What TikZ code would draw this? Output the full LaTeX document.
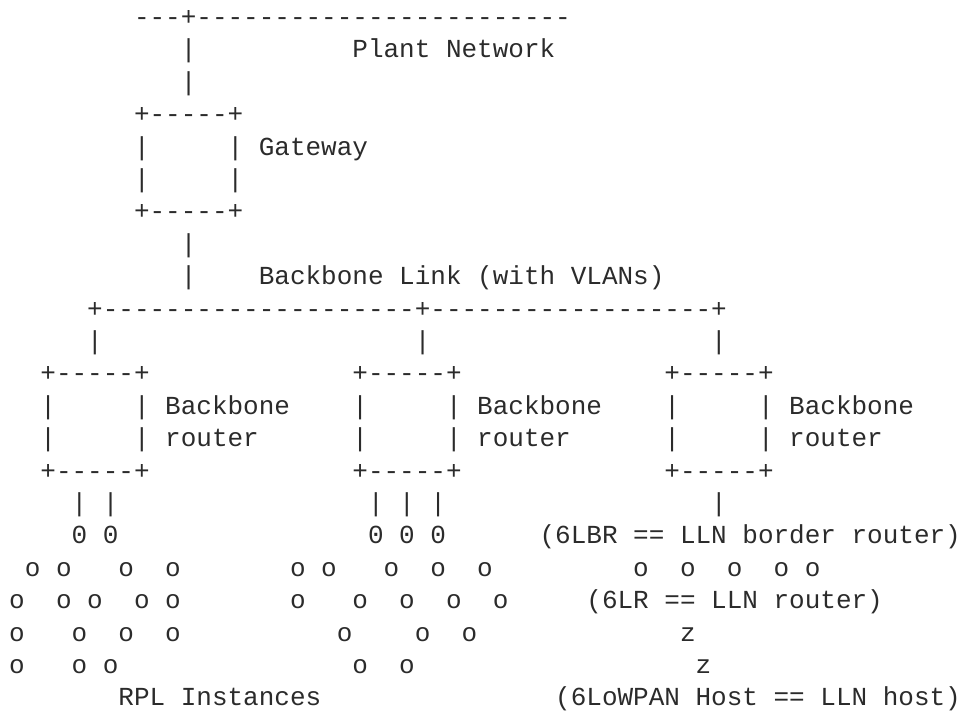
\documentclass[tikz,border=0pt]{standalone}
\usepackage{fontspec}
\newfontfamily\asc{Liberation Mono}
\definecolor{ink}{HTML}{2B2B2B}
\tikzset{
  t/.style={anchor=base west, inner sep=0pt, outer sep=0pt, font=\asc\fontsize{19.5pt}{19.5pt}\selectfont, text=ink}
}
% column -> x (px), row -> baseline y (px)
\newcommand\cx[1]{9.2+(#1)*15.6}
\newcommand\ry[1]{25.5+((#1)-1)*32.4}
\begin{document}
\begin{tikzpicture}[x=0.75pt, y=-0.75pt]
\useasboundingbox (0,0) rectangle (960,712);
% Plant network and gateway
\node[t] (plantbus) at ({\cx{8}},{\ry{1}}) {---+------------------------};
\node[t] (v2) at ({\cx{11}},{\ry{2}}) {|};
\node[t] (plant) at ({\cx{22}},{\ry{2}}) {Plant Network};
\node[t] (v3) at ({\cx{11}},{\ry{3}}) {|};
\node[t] (gwtop) at ({\cx{8}},{\ry{4}}) {+-----+};
\node[t] (gwl5) at ({\cx{8}},{\ry{5}}) {|};
\node[t] (gwr5) at ({\cx{14}},{\ry{5}}) {|};
\node[t] (gwlabel) at ({\cx{16}},{\ry{5}}) {Gateway};
\node[t] (gwl6) at ({\cx{8}},{\ry{6}}) {|};
\node[t] (gwr6) at ({\cx{14}},{\ry{6}}) {|};
\node[t] (gwbot) at ({\cx{8}},{\ry{7}}) {+-----+};
\node[t] (v8) at ({\cx{11}},{\ry{8}}) {|};
\node[t] (v9) at ({\cx{11}},{\ry{9}}) {|};
\node[t] (bblabel) at ({\cx{16}},{\ry{9}}) {Backbone Link (with VLANs)};
\node[t] (bbbus) at ({\cx{5}},{\ry{10}}) {+--------------------+------------------+};
\foreach \c [count=\i] in {5,26,45}
  \node[t] (v11-\i) at ({\cx{\c}},{\ry{11}}) {|};
% backbone routers
\foreach \b [count=\i] in {2,22,42} {
  \node[t] (brtop-\i) at ({\cx{\b}},{\ry{12}}) {+-----+};
  \node[t] (brl13-\i) at ({\cx{\b}},{\ry{13}}) {|};
  \node[t] (brr13-\i) at ({\cx{\b+6}},{\ry{13}}) {|};
  \node[t] (brla-\i) at ({\cx{\b+8}},{\ry{13}}) {Backbone};
  \node[t] (brl14-\i) at ({\cx{\b}},{\ry{14}}) {|};
  \node[t] (brr14-\i) at ({\cx{\b+6}},{\ry{14}}) {|};
  \node[t] (brlb-\i) at ({\cx{\b+8}},{\ry{14}}) {router};
  \node[t] (brbot-\i) at ({\cx{\b}},{\ry{15}}) {+-----+};
}
% links below routers
\foreach \c [count=\i] in {4,6,23,25,27,45}
  \node[t] (v16-\i) at ({\cx{\c}},{\ry{16}}) {|};
\foreach \c [count=\i] in {4,6,23,25,27}
  \node[t] (root-\i) at ({\cx{\c}},{\ry{17}}) {0};
\node[t] (lbr) at ({\cx{34}},{\ry{17}}) {(6LBR == LLN border router)};
% LLN nodes
\foreach \c [count=\i] in {1,3,7,10,18,20,24,27,30,40,43,46,49,51}
  \node[t] (o18-\i) at ({\cx{\c}},{\ry{18}}) {o};
\foreach \c [count=\i] in {0,3,5,8,10,18,22,25,28,31}
  \node[t] (o19-\i) at ({\cx{\c}},{\ry{19}}) {o};
\node[t] (lr) at ({\cx{37}},{\ry{19}}) {(6LR == LLN router)};
\foreach \c [count=\i] in {0,4,7,10,21,26,29}
  \node[t] (o20-\i) at ({\cx{\c}},{\ry{20}}) {o};
\node[t] (z20) at ({\cx{43}},{\ry{20}}) {z};
\foreach \c [count=\i] in {0,4,6,22,25}
  \node[t] (o21-\i) at ({\cx{\c}},{\ry{21}}) {o};
\node[t] (z21) at ({\cx{44}},{\ry{21}}) {z};
\node[t] (rpl) at ({\cx{7}},{\ry{22}}) {RPL Instances};
\node[t] (host) at ({\cx{35}},{\ry{22}}) {(6LoWPAN Host == LLN host)};
\end{tikzpicture}
\end{document}
